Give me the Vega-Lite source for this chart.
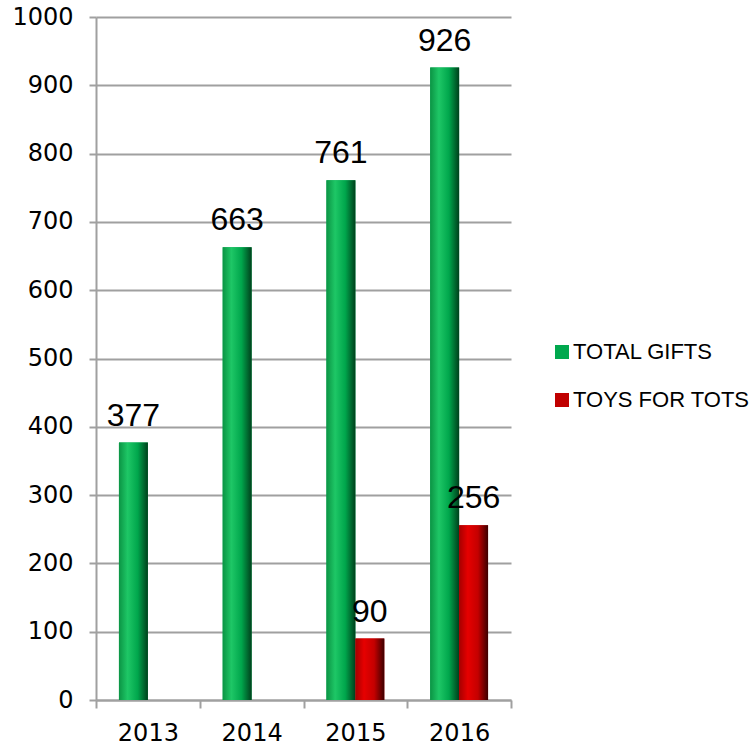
{
  "$schema": "https://vega.github.io/schema/vega-lite/v6.json",
  "width": 415,
  "height": 683,
  "autosize": {"type": "none"},
  "padding": {"left": 96, "top": 17, "right": 240, "bottom": 49},
  "background": "white",
  "data": {
    "values": [
      {"year": "2013", "series": "TOTAL GIFTS", "value": 377},
      {"year": "2014", "series": "TOTAL GIFTS", "value": 663},
      {"year": "2015", "series": "TOTAL GIFTS", "value": 761},
      {"year": "2016", "series": "TOTAL GIFTS", "value": 926},
      {"year": "2015", "series": "TOYS FOR TOTS", "value": 90},
      {"year": "2016", "series": "TOYS FOR TOTS", "value": 256}
    ]
  },
  "config": {
    "view": {"stroke": null},
    "font": "DejaVu Sans"
  },
  "encoding": {
    "x": {
      "field": "year", "type": "nominal",
      "scale": {"domain": ["2013", "2014", "2015", "2016"], "paddingInner": 0, "paddingOuter": 0},
      "axis": {
        "title": null, "labelAngle": 0, "tickBand": "extent",
        "labelFont": "DejaVu Sans", "labelFontSize": 24, "labelColor": "#000000",
        "labelPadding": 13, "tickSize": 8, "tickColor": "#a0a0a0", "tickWidth": 2,
        "domainColor": "#a0a0a0", "domainWidth": 2
      }
    },
    "xOffset": {
      "field": "series", "type": "nominal",
      "scale": {"domain": ["TOTAL GIFTS", "TOYS FOR TOTS"], "paddingInner": 0, "paddingOuter": 0.793}
    },
    "y": {
      "field": "value", "type": "quantitative",
      "scale": {"domain": [0, 1000], "nice": false},
      "axis": {
        "title": null, "values": [0, 100, 200, 300, 400, 500, 600, 700, 800, 900, 1000],
        "format": "d",
        "grid": true, "gridColor": "#a0a0a0", "gridWidth": 2,
        "labelFont": "DejaVu Sans", "labelFontSize": 24, "labelColor": "#000000",
        "labelPadding": 16, "tickSize": 7, "tickColor": "#a0a0a0", "tickWidth": 2,
        "domainColor": "#a0a0a0", "domainWidth": 2
      }
    }
  },
  "layer": [
    {
      "mark": {"type": "bar"},
      "encoding": {
        "color": {
          "field": "series", "type": "nominal",
          "scale": {"domain": ["TOTAL GIFTS", "TOYS FOR TOTS"], "range": ["#00a84e", "#c00000"]},
          "legend": {
            "title": null, "orient": "none", "legendX": 455, "legendY": 324,
            "symbolType": "square", "symbolSize": 196, "symbolStrokeWidth": 0,
            "labelFont": "Liberation Sans", "labelFontSize": 22, "labelColor": "#000000",
            "labelOffset": 0, "rowPadding": 26, "labelLimit": 300
          }
        }
      }
    },
    {
      "transform": [{"filter": "datum.series === 'TOTAL GIFTS'"}],
      "mark": {
        "type": "bar",
        "color": {
          "x1": 0, "y1": 0, "x2": 1, "y2": 0, "gradient": "linear",
          "stops": [
            {"offset": 0, "color": "#0b9444"},
            {"offset": 0.3, "color": "#1ec766"},
            {"offset": 0.65, "color": "#00a64c"},
            {"offset": 1, "color": "#00401c"}
          ]
        }
      }
    },
    {
      "transform": [{"filter": "datum.series === 'TOYS FOR TOTS'"}],
      "mark": {
        "type": "bar",
        "color": {
          "x1": 0, "y1": 0, "x2": 1, "y2": 0, "gradient": "linear",
          "stops": [
            {"offset": 0, "color": "#a50000"},
            {"offset": 0.3, "color": "#e60000"},
            {"offset": 0.65, "color": "#c40000"},
            {"offset": 1, "color": "#3d0000"}
          ]
        }
      }
    },
    {
      "mark": {"type": "text", "baseline": "alphabetic", "dy": -17, "fontSize": 32, "font": "Liberation Sans", "color": "#000000"},
      "encoding": {"text": {"field": "value", "type": "quantitative"}}
    }
  ]
}
